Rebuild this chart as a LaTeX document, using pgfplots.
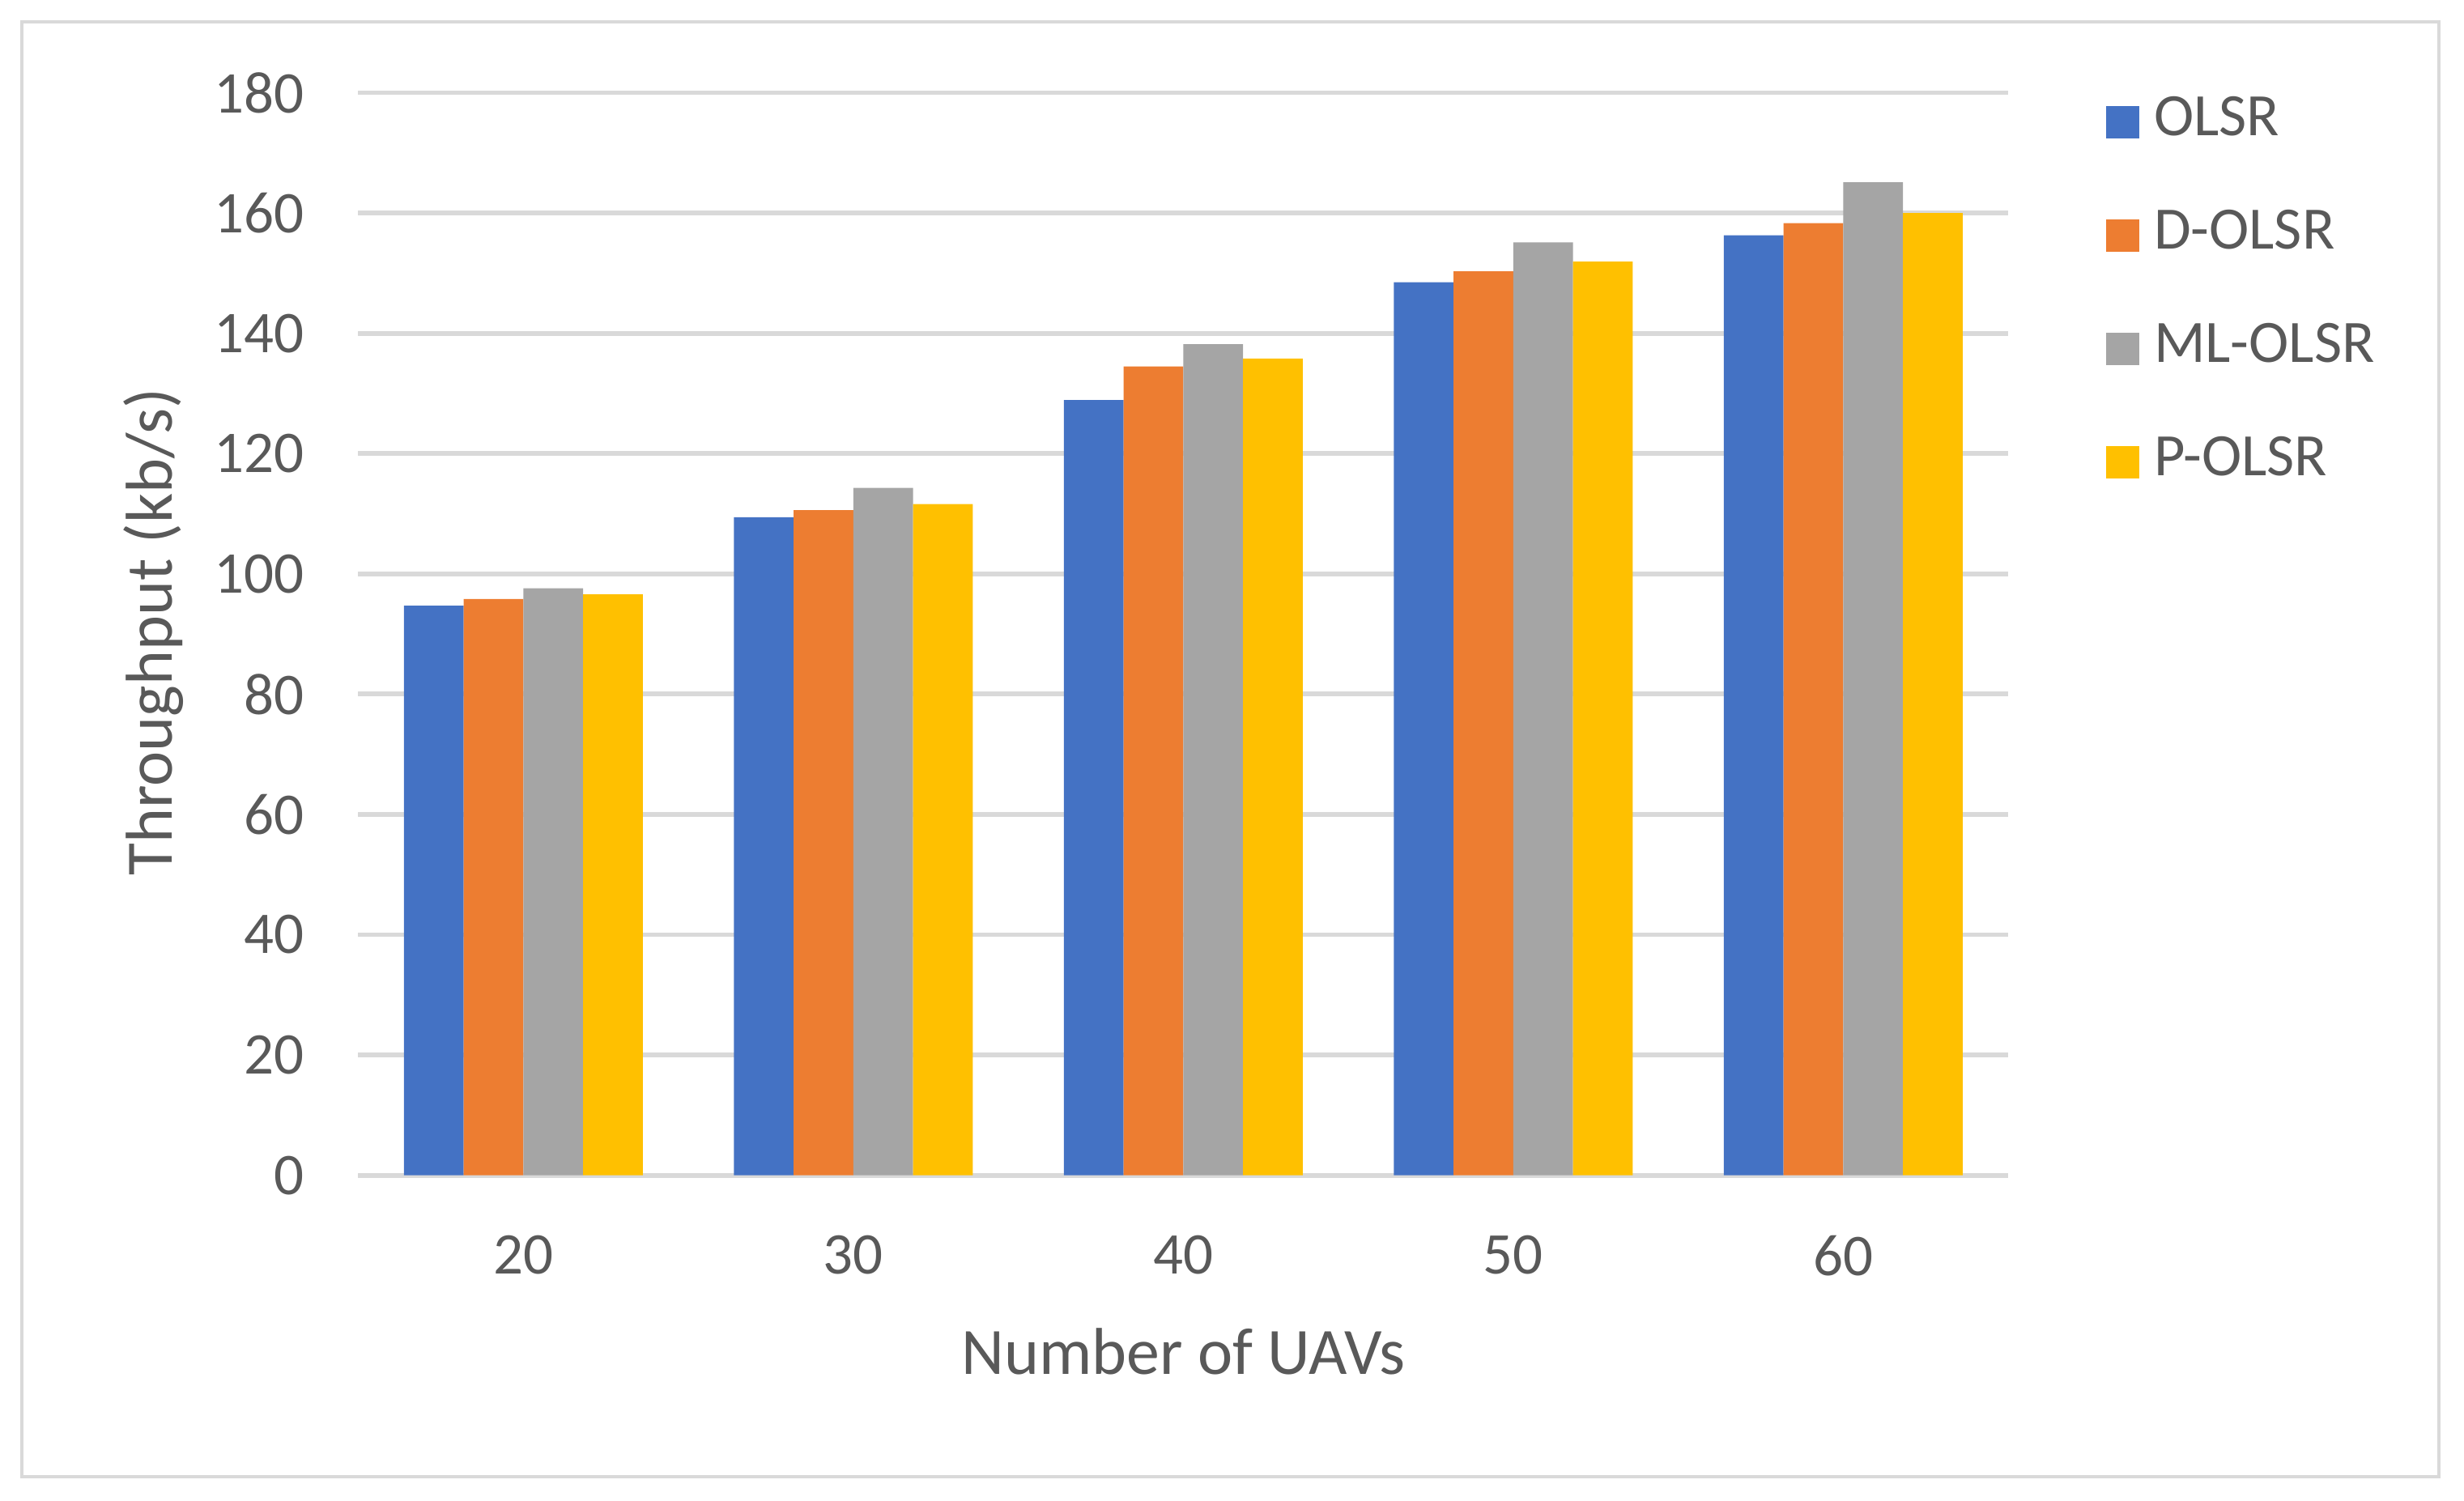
\documentclass[border=0pt]{standalone}
\usepackage{fontspec}
\setmainfont{Carlito}
\usepackage{pgfplots}
\pgfplotsset{compat=1.18}
\definecolor{olsr}{HTML}{4472C4}
\definecolor{dolsr}{HTML}{ED7D31}
\definecolor{mlolsr}{HTML}{A5A5A5}
\definecolor{polsr}{HTML}{FFC000}
\definecolor{txt}{HTML}{595959}
\definecolor{gridc}{HTML}{D9D9D9}
\begin{document}
\begin{tikzpicture}
\path[use as bounding box] (0,0) rectangle (15.68cm,9.55cm);
\draw[gridc, line width=0.02cm] (0.14cm,0.15cm) rectangle (15.52cm,9.41cm);
\begin{axis}[
    at={(2.28cm,2.07cm)}, anchor=south west,
    scale only axis,
    width=10.5cm, height=6.89cm,
    ybar=0pt, bar width=0.38cm,
    xmin=-0.5, xmax=4.5,
    ymin=0, ymax=180,
    xtick=data,
    xticklabels={20,30,40,50,60},
    ytick={0,20,...,180},
    axis line style={draw=none},
    major tick length=0pt,
    ymajorgrids,
    grid style={gridc, line width=0.03cm},
    tick label style={font=\fontsize{10.7}{12}\selectfont, text=txt},
    /pgf/number format/assume math mode=true,
    yticklabel shift=0.22cm,
    xticklabel shift=0.26cm,
    xlabel={Number of UAVs},
    ylabel={Throughput (kb/s)},
    label style={font=\fontsize{12}{14}\selectfont, text=txt},
    x label style={at={(axis description cs:0.5,-0.163)}, anchor=center},
    y label style={at={(axis description cs:-0.124,0.502)}, anchor=center, rotate=0},
    legend cell align=left,
    legend image code/.code={\fill[#1] (0cm,-0.12cm) rectangle (0.21cm,0.09cm);},
    legend style={draw=none, fill=none, at={(1.0485,1.008)}, anchor=north west,
        font=\fontsize{10.9}{12}\selectfont, text=txt,
        row sep=0.42cm, column sep=0.095cm,
        nodes={inner sep=0pt}},
]
\addplot[fill=olsr, draw=none] coordinates {(0,94.7) (1,109.4) (2,128.9) (3,148.5) (4,156.3)};
\addplot[fill=dolsr, draw=none] coordinates {(0,95.8) (1,110.6) (2,134.5) (3,150.3) (4,158.3)};
\addplot[fill=mlolsr, draw=none] coordinates {(0,97.6) (1,114.3) (2,138.2) (3,155.1) (4,165.1)};
\addplot[fill=polsr, draw=none] coordinates {(0,96.6) (1,111.6) (2,135.8) (3,151.9) (4,160.0)};
\legend{OLSR, D-OLSR, ML-OLSR, P-OLSR}
\end{axis}
\end{tikzpicture}
\end{document}
